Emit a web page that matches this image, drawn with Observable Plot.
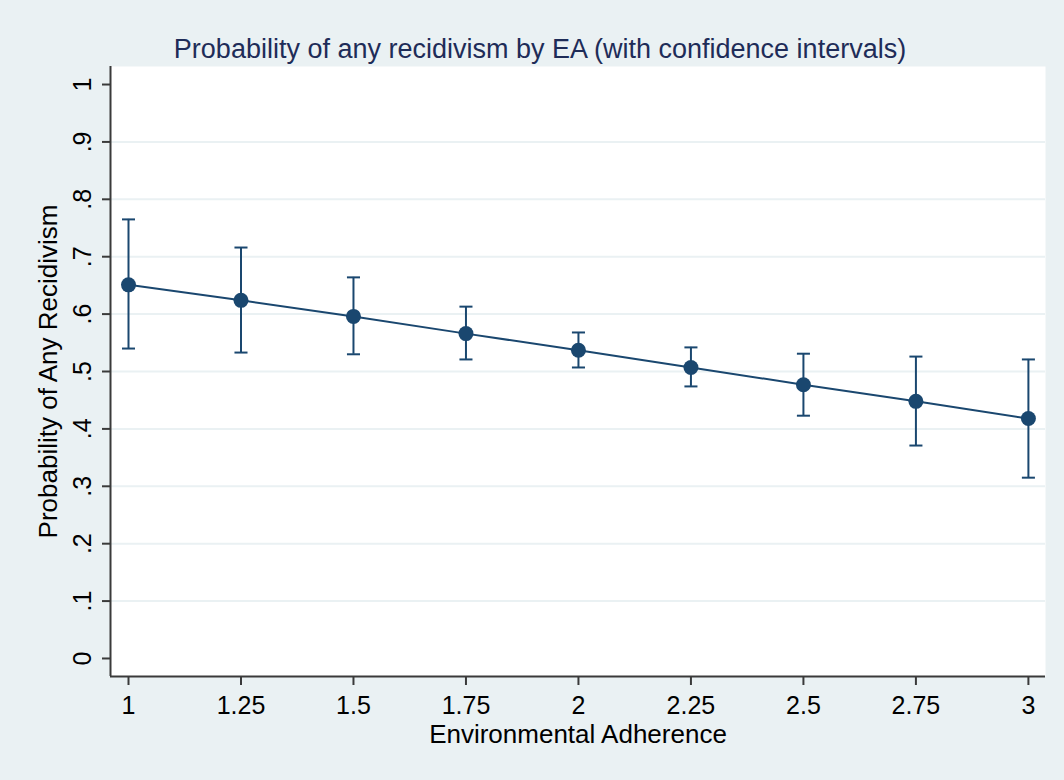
<!DOCTYPE html>
<html>
<head>
<meta charset="utf-8">
<script src="https://cdn.jsdelivr.net/npm/d3@7"></script>
<script src="https://cdn.jsdelivr.net/npm/@observablehq/plot@0.6"></script>
<style>
  html, body { margin: 0; padding: 0; background: #eaf1f3; }
  #chart svg { display: block; }
</style>
</head>
<body>
<div id="chart"></div>
<script>
// Data
const eaValues   = [1, 1.25, 1.5, 1.75, 2, 2.25, 2.5, 2.75, 3];
const probValues = [0.651, 0.624, 0.596, 0.566, 0.537, 0.507, 0.477, 0.448, 0.418];
const upperCI    = [0.765, 0.716, 0.664, 0.613, 0.568, 0.542, 0.531, 0.526, 0.521];
const lowerCI    = [0.540, 0.533, 0.530, 0.521, 0.507, 0.474, 0.423, 0.371, 0.315];

const xTicks = [1, 1.25, 1.5, 1.75, 2, 2.25, 2.5, 2.75, 3];
const xTickLabels = ["1", "1.25", "1.5", "1.75", "2", "2.25", "2.5", "2.75", "3"];
const yTicks = [0, 0.1, 0.2, 0.3, 0.4, 0.5, 0.6, 0.7, 0.8, 0.9, 1];
const yTickLabels = ["0", ".1", ".2", ".3", ".4", ".5", ".6", ".7", ".8", ".9", "1"];
const yGrid = [0.1, 0.2, 0.3, 0.4, 0.5, 0.6, 0.7, 0.8, 0.9];

const titleText = "Probability of any recidivism by EA (with confidence intervals)";
const xTitle = "Environmental Adherence";
const yTitle = "Probability of Any Recidivism";

const rows = eaValues.map((x, i) => ({x, p: probValues[i], hi: upperCI[i], lo: lowerCI[i]}));

const navy = "#1a476f";
const xDomain = [0.96, 3.038];
const yDomain = [-0.0314, 1.0314];
const capHalf = 0.0145;
const font = "'Liberation Sans', Arial, sans-serif";

const chart = Plot.plot({
  width: 1064,
  height: 780,
  marginLeft: 110,
  marginRight: 19,
  marginTop: 66,
  marginBottom: 104,
  style: {background: "#eaf1f3", fontFamily: font, fontSize: "25px", color: "#000"},
  x: {domain: xDomain, ticks: xTicks, tickFormat: (d) => xTickLabels[xTicks.indexOf(d)]},
  y: {domain: yDomain, ticks: yTicks, tickFormat: (d) => yTickLabels[yTicks.indexOf(d)]},
  marks: [
    Plot.frame({fill: "white", stroke: "none"}),
    Plot.ruleY(yGrid, {stroke: "#eaf1f3", strokeWidth: 2}),
    // axis lines
    Plot.ruleX([xDomain[0]], {stroke: "#3a3a3a", strokeWidth: 2}),
    Plot.ruleY([yDomain[0]], {stroke: "#3a3a3a", strokeWidth: 2}),
    Plot.axisX({ticks: xTicks, tickFormat: (d) => xTickLabels[xTicks.indexOf(d)], tickSize: 9, tickPadding: 11,
      fontSize: 25, stroke: "#3a3a3a", strokeWidth: 2, fill: "#000", label: null}),
    Plot.axisY({ticks: yTicks, tickFormat: (d) => yTickLabels[yTicks.indexOf(d)], tickSize: 8, tickPadding: 12,
      tickRotate: -90, fontSize: 25, stroke: "#3a3a3a", strokeWidth: 2, fill: "#000", label: null}),
    // error bars
    Plot.ruleX(rows, {x: "x", y1: "lo", y2: "hi", stroke: navy, strokeWidth: 2}),
    Plot.link(rows, {x1: (d) => d.x - capHalf, x2: (d) => d.x + capHalf, y1: "hi", y2: "hi", stroke: navy, strokeWidth: 2}),
    Plot.link(rows, {x1: (d) => d.x - capHalf, x2: (d) => d.x + capHalf, y1: "lo", y2: "lo", stroke: navy, strokeWidth: 2}),
    // line and points
    Plot.line(rows, {x: "x", y: "p", stroke: navy, strokeWidth: 2}),
    Plot.dot(rows, {x: "x", y: "p", r: 7.5, fill: navy, stroke: "none"}),
    // titles
    Plot.text([titleText], {frameAnchor: "top", dx: -38, dy: -28, fontSize: 27, fill: "#1e2c58", fontFamily: font}),
    Plot.text([xTitle], {frameAnchor: "bottom", dy: 66, fontSize: 26, fill: "#000", fontFamily: font}),
    Plot.text([yTitle], {frameAnchor: "left", dx: -62, rotate: -90, textAnchor: "middle", fontSize: 26, fill: "#000", fontFamily: font})
  ]
});

document.getElementById("chart").appendChild(chart);
</script>
</body>
</html>
